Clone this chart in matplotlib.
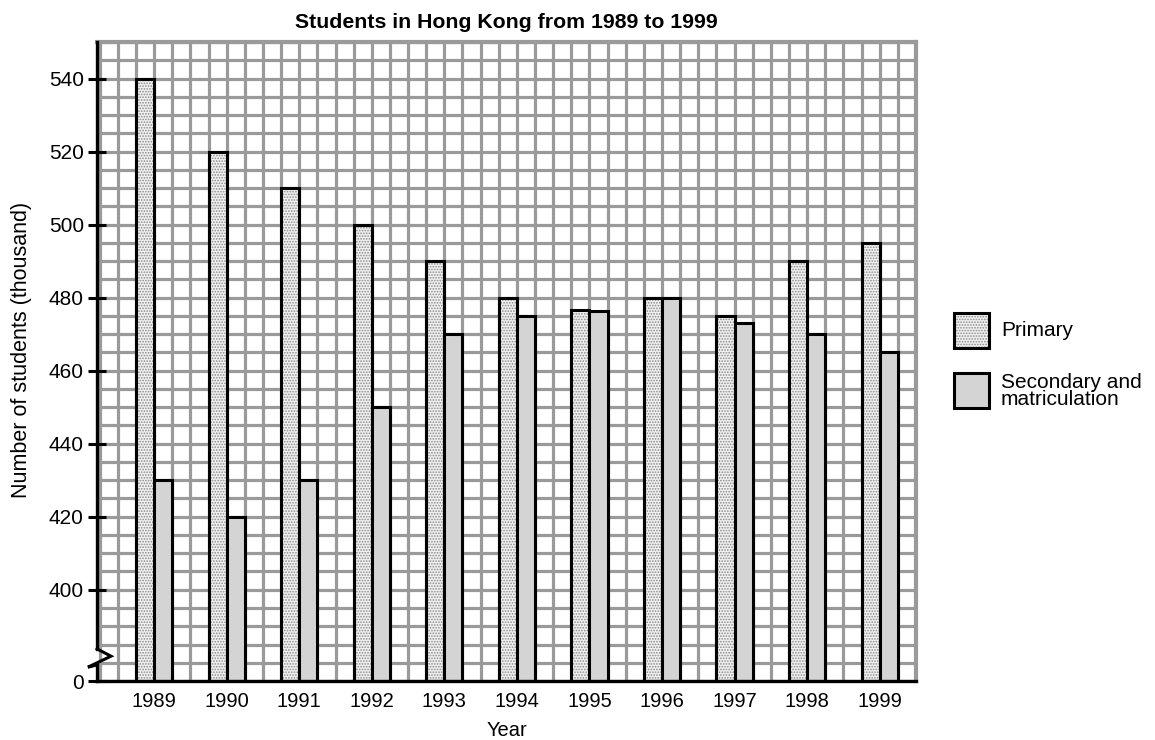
import matplotlib
matplotlib.use("Agg")
import matplotlib.pyplot as plt
import numpy as np
from matplotlib.patches import Rectangle

plt.rcParams["font.family"] = ["Liberation Sans", "DejaVu Sans"]
plt.rcParams["hatch.linewidth"] = 0.8

years = [1989, 1990, 1991, 1992, 1993, 1994, 1995, 1996, 1997, 1998, 1999]
primary = [540, 520, 510, 500, 490, 480, 476.5, 480, 475, 490, 495]
secondary = [430, 420, 430, 450, 470, 475, 476.3, 480, 473, 470, 465]
ytick_vals = [375, 400, 420, 440, 460, 480, 500, 520, 540]
ytick_labels = ["0", "400", "420", "440", "460", "480", "500", "520", "540"]

# axis runs from a "broken" zero (drawn at 375) up to 550
y_lo, y_hi = 375, 550
x_lo, x_hi = -0.15, 45

fig = plt.figure(figsize=(11.55, 7.4), dpi=100)
ax = fig.add_axes([0.084, 0.0797, 0.709, 0.8635])

# graph-paper grid, one cell = 1 x unit = 5 thousand
for gx in np.arange(0, 46, 1):
    ax.axvline(gx, color="#9a9a9a", lw=2.3, zorder=0)
for gy in np.arange(y_lo, y_hi + 1, 5):
    ax.axhline(gy, color="#9a9a9a", lw=2.3, zorder=0)

x = np.arange(len(years)) * 4 + 3  # centre of each year pair
# primary: dotted fill
ax.bar(x - 0.5, np.array(primary) - y_lo, width=1, bottom=y_lo, color="#f0f0f0",
       hatch="......", edgecolor="#8a8a8a", linewidth=0, zorder=2)
ax.bar(x - 0.5, np.array(primary) - y_lo, width=1, bottom=y_lo, fill=False,
       edgecolor="black", linewidth=2.2, zorder=3)
# secondary: light grey
ax.bar(x + 0.5, np.array(secondary) - y_lo, width=1, bottom=y_lo, color="#d4d4d4",
       edgecolor="black", linewidth=2.2, zorder=3)

ax.set_xlim(x_lo, x_hi)
ax.set_ylim(y_lo, y_hi)

ax.set_yticks(ytick_vals)
ax.set_yticklabels(ytick_labels, fontsize=15)
ax.set_xticks(x)
ax.set_xticklabels([str(y) for y in years], fontsize=14.5)
ax.tick_params(axis="y", direction="inout", length=13, width=2.2, pad=3)
ax.tick_params(axis="x", length=0, pad=8)

for s in ["top", "right"]:
    ax.spines[s].set_color("#9a9a9a")
    ax.spines[s].set_linewidth(3)
ax.spines["bottom"].set_color("black")
ax.spines["bottom"].set_linewidth(2.4)
ax.spines["bottom"].set_zorder(4)
ax.spines["left"].set_visible(False)

# left axis with break mark
ax.plot([x_lo, x_lo], [y_lo, 379.4], color="black", lw=2.4, clip_on=False, zorder=5)
ax.plot([x_lo, x_lo], [383.8, y_hi], color="black", lw=2.4, clip_on=False, zorder=5)
ax.plot([x_lo, 0.62, -0.65, x_lo], [383.8, 381.8, 378.8, 379.4], color="black",
        lw=2.2, clip_on=False, zorder=5, solid_joinstyle="miter")

ax.set_title("Students in Hong Kong from 1989 to 1999", fontsize=15.3,
             fontweight="bold", pad=10)
ax.set_xlabel("Year", fontsize=14.5)
ax.xaxis.set_label_coords(0.5, -0.062)
ax.set_ylabel("Number of students (thousand)", fontsize=15.5)
ax.yaxis.set_label_coords(-0.080, 0.518)

# legend drawn by hand
fig.add_artist(Rectangle((954 / 1155, 1 - 348 / 740), 35 / 1155, 35 / 740,
                         transform=fig.transFigure, facecolor="#f0f0f0",
                         hatch="......", edgecolor="#8a8a8a", linewidth=0))
fig.add_artist(Rectangle((954 / 1155, 1 - 348 / 740), 35 / 1155, 35 / 740,
                         transform=fig.transFigure, fill=False,
                         edgecolor="black", linewidth=2.2))
fig.add_artist(Rectangle((954 / 1155, 1 - 408 / 740), 35 / 1155, 35 / 740,
                         transform=fig.transFigure, facecolor="#d4d4d4",
                         edgecolor="black", linewidth=2.2))
fig.text(1001 / 1155, 1 - 330 / 740, "Primary", fontsize=15, va="center")
fig.text(1001 / 1155, 1 - 391 / 740, "Secondary and\nmatriculation", fontsize=15,
         va="center", linespacing=0.85)

fig.savefig("out.png", dpi=100)
